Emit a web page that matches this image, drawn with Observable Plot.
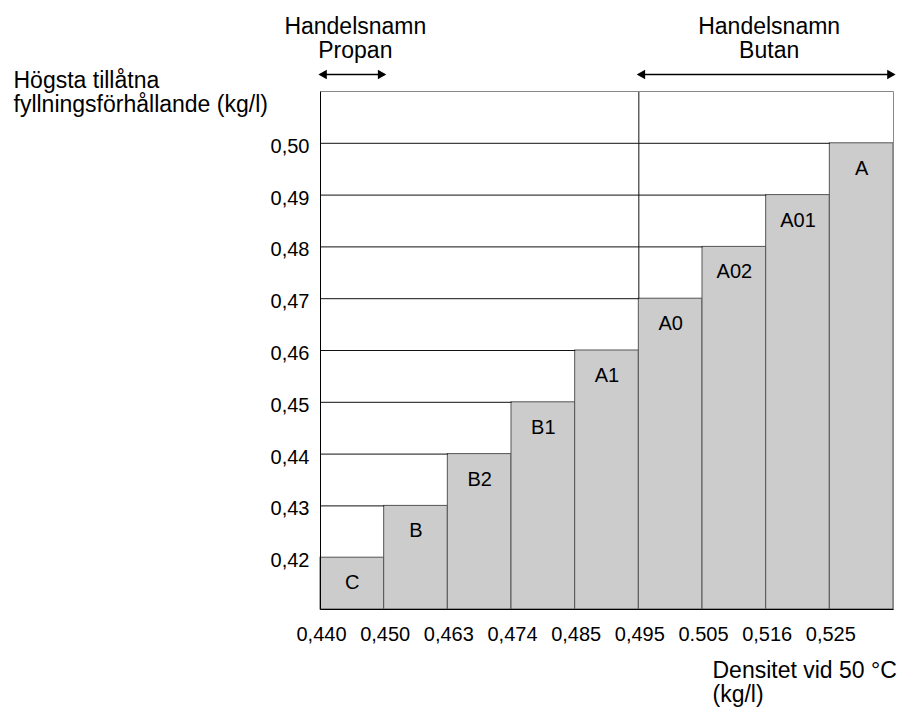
<!DOCTYPE html>
<html>
<head>
<meta charset="utf-8">
<script src="https://cdn.jsdelivr.net/npm/d3@7"></script>
<script src="https://cdn.jsdelivr.net/npm/@observablehq/plot@0.6"></script>
<style>
  html, body { margin: 0; padding: 0; background: #fff; }
  #chart svg { display: block; }
</style>
</head>
<body>
<div id="chart"></div>
<script>
// ---- data ----
const classes = ["C", "B", "B2", "B1", "A1", "A0", "A02", "A01", "A"];
const fillRatio = [0.42, 0.43, 0.44, 0.45, 0.46, 0.47, 0.48, 0.49, 0.50];
const densityLabels = ["0,440", "0,450", "0,463", "0,474", "0,485", "0,495", "0.505", "0,516", "0,525"];
const yTicks = [0.42, 0.43, 0.44, 0.45, 0.46, 0.47, 0.48, 0.49, 0.50];
const groupNames = ["Handelsnamn\nPropan", "Handelsnamn\nButan"];
const groupStart = [0, 5];
const groupEnd = [1, 9];
const yTitle = "Högsta tillåtna\nfyllningsförhållande (kg/l)";
const xTitle = "Densitet vid 50 °C\n(kg/l)";

const yMin = 0.41, yMax = 0.51;
const bars = classes.map((c, i) => ({c, i, v: fillRatio[i]}));
const hlines = bars.filter(d => d.i > 0);
const groups = groupNames.map((n, k) => ({n, a: groupStart[k], b: groupEnd[k]}));

const font = "Liberation Sans, Arial, sans-serif";

const chart = Plot.plot({
  width: 904,
  height: 711,
  marginLeft: 320,
  marginRight: 11,
  marginTop: 91,
  marginBottom: 102,
  style: {fontFamily: font, fontSize: "20px", color: "#000", background: "#fff"},
  x: {domain: [0, 9], axis: null},
  y: {domain: [yMin, yMax], axis: null},
  marks: [
    // bars
    Plot.rectY(bars, {x1: "i", x2: d => d.i + 1, y1: yMin, y2: "v", fill: "#cccccc", stroke: "#555", strokeWidth: 1}),
    // horizontal lines from axis to bar
    Plot.link(hlines, {x1: 0, x2: "i", y1: "v", y2: "v", stroke: "#111", strokeWidth: 1}),
    // vertical group separators
    Plot.link(groups.filter(g => g.a > 0), {x1: "a", x2: "a", y1: yMax, y2: d => fillRatio[d.a], stroke: "#111", strokeWidth: 1}),
    // frame: top & right gray
    Plot.link([0], {x1: 0, x2: 9, y1: yMax, y2: yMax, stroke: "#888"}),
    Plot.link([0], {x1: 9, x2: 9, y1: yMin, y2: yMax, stroke: "#888"}),
    // left & bottom black
    Plot.link([0], {x1: 0, x2: 0, y1: yMin, y2: yMax, stroke: "#000"}),
    Plot.link([0], {x1: 0, x2: 9, y1: yMin, y2: yMin, stroke: "#000"}),
    // bar labels
    Plot.text(bars, {x: d => d.i + 0.5, y: "v", text: "c", dy: 25, fontSize: 20, fill: "#000"}),
    // y tick labels
    Plot.text(yTicks, {x: 0, y: d => d, text: d => d.toFixed(2).replace(".", ","), textAnchor: "end", dx: -11, dy: 3, fontSize: 20, fill: "#000"}),
    // x tick labels
    Plot.text(densityLabels, {x: (d, i) => i, y: yMin, text: d => d, dy: 25, dx: 1, fontSize: 20, fill: "#000"}),
    // group arrows
    Plot.link(groups, {x1: "a", x2: "b", y1: yMax, y2: yMax, dy: -17, stroke: "#000", strokeWidth: 1.3}),
    Plot.dot(groups, {x: "a", y: yMax, dy: -17, dx: 3.5, symbol: "triangle", rotate: -90, r: 3.6, fill: "#000"}),
    Plot.dot(groups, {x: "b", y: yMax, dy: -17, dx: -3.5, symbol: "triangle", rotate: 90, r: 3.6, fill: "#000"}),
    Plot.text(groups, {x: d => (d.a + d.b) / 2, y: yMax, text: "n", lineAnchor: "top", dy: -75, dx: 3, fontSize: 23, lineHeight: 1.06, fill: "#000"}),
    // axis titles
    Plot.text([yTitle], {frameAnchor: "top-left", text: d => d, lineAnchor: "top", dx: -307, dy: -20, textAnchor: "start", fontSize: 23, lineHeight: 1.04, fill: "#000"}),
    Plot.text([xTitle], {frameAnchor: "bottom-left", text: d => d, lineAnchor: "top", dx: 392, dy: 52, textAnchor: "start", fontSize: 23, lineHeight: 1.04, fill: "#000"})
  ]
});
document.getElementById("chart").appendChild(chart);
</script>
</body>
</html>
